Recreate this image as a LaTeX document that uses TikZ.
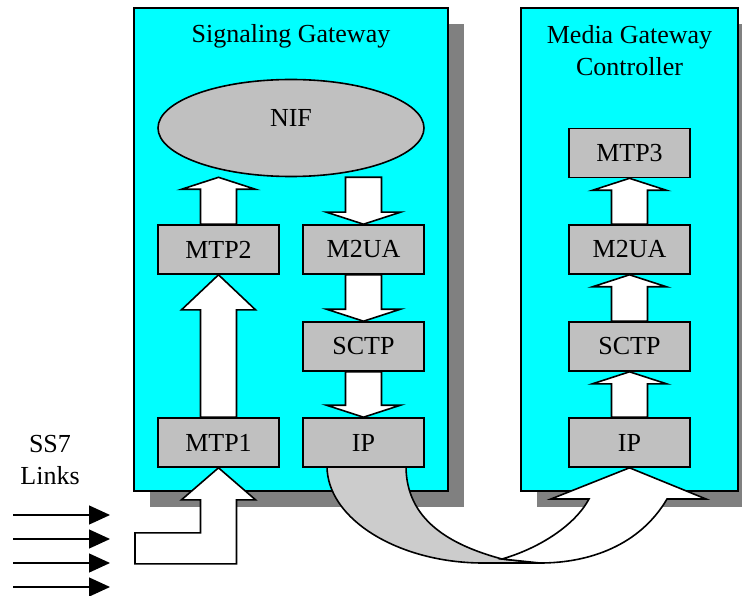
\documentclass[tikz,border=0pt]{standalone}
\usepackage{fontspec}
\setmainfont{Liberation Serif}
\usetikzlibrary{calc,shapes.geometric,arrows.meta}

\definecolor{panelcyan}{HTML}{00FFFF}
\definecolor{layergray}{HTML}{C0C0C0}
\definecolor{shadowgray}{HTML}{808080}
\definecolor{backgray}{HTML}{CCCCCC}

\pgfdeclarelayer{base}
\pgfdeclarelayer{flow}
\pgfsetlayers{base,flow,main}

\tikzset{
  panel/.style={draw=black, line width=1.2pt, fill=panelcyan, inner sep=0pt},
  panelshadow/.style={fill=shadowgray},
  layer/.style={draw=black, line width=1.6pt, fill=layergray, inner sep=0pt,
    minimum width=121pt, minimum height=49pt, font=\fontsize{26}{30}\selectfont},
  blockarrow/.style={draw=black, fill=white, line width=1.6pt, line join=miter},
  caption/.style={font=\fontsize{26}{32}\selectfont, align=center, inner sep=0pt},
  linkline/.style={line width=1.3pt, -{Triangle[length=21pt,width=19pt]}},
}

% upward block arrow: #1 column box, #2 tail anchor, #3 tip anchor, #4 head length
\newcommand{\liftarrow}[4]{%
  \filldraw[blockarrow] let \p0=(#1), \p1=(#2), \p2=(#3) in
    (\x0-18pt,\y1) -- (\x0-18pt,\y2-#4pt) -- (\x0-37pt,\y2-#4pt) -- (\x0,\y2)
    -- (\x0+37pt,\y2-#4pt) -- (\x0+18pt,\y2-#4pt) -- (\x0+18pt,\y1) -- cycle;}
% downward block arrow, same arguments
\newcommand{\droparrow}[4]{%
  \filldraw[blockarrow] let \p0=(#1), \p1=(#2), \p2=(#3) in
    (\x0-18pt,\y1) -- (\x0-18pt,\y2+#4pt) -- (\x0-37pt,\y2+#4pt) -- (\x0,\y2)
    -- (\x0+37pt,\y2+#4pt) -- (\x0+18pt,\y2+#4pt) -- (\x0+18pt,\y1) -- cycle;}

\begin{document}
\begin{tikzpicture}[x=1pt, y=-1pt]
  \useasboundingbox (0,0) rectangle (742,596);

  % layer boxes
  \node[draw=black, line width=1.6pt, fill=layergray, ellipse, inner sep=0pt,
        minimum width=266pt, minimum height=97pt] (nif) at (291,128) {};
  \node[caption] (niftext) at (291,118) {NIF};
  \node[layer] (mtp2) at (218.5,249.5) {MTP2};
  \node[layer] (mtp1) at (218.5,442.5) {MTP1};
  \node[layer] (m2ua) at (363.5,249.5) {M2UA};
  \node[layer] (sctp) at (363.5,346.5) {SCTP};
  \node[layer] (ip)   at (363.5,442.5) {IP};
  \node[layer] (mmtp3) at (629.5,153) {MTP3};
  \node[layer] (mm2ua) at (629.5,249.5) {M2UA};
  \node[layer] (msctp) at (629.5,346.5) {SCTP};
  \node[layer] (mip)   at (629.5,442.5) {IP};

  \begin{pgfonlayer}{base}
    \begin{scope}
      \clip (0,0) rectangle (742,596);
      \fill[white] (0,0) rectangle (742,596);
      % panels with their drop shadows
      \coordinate (sgnw) at (134,8);   \coordinate (sgse) at (448,491);
      \coordinate (mgnw) at (521,8);   \coordinate (mgse) at (738,491);
      \fill[panelshadow] ($(sgnw)+(16,16)$) rectangle ($(sgse)+(16,16)$);
      \fill[panelshadow] ($(mgnw)+(16,16)$) rectangle ($(mgse)+(16,16)$);
      \node[panel, minimum width=314pt, minimum height=483pt] (sg) at (291,249.5) {};
      \node[panel, minimum width=217pt, minimum height=483pt] (mgc) at (629.5,249.5) {};
      \node[caption] (sgtitle) at (291,36) {Signaling Gateway};
      \node[caption] (mgctitle) at (629.5,51) {Media Gateway\\Controller};
    \end{scope}
  \end{pgfonlayer}

  % SS7 links
  \node[caption] (ss7) at (50,460) {SS7\\Links};
  \foreach \i/\yy in {1/515, 2/539, 3/563, 4/587} {
    \coordinate (ls\i) at (13,\yy);
    \coordinate (le\i) at (110,\yy);
    \draw[linkline] (ls\i) -- (le\i);
  }

  \begin{pgfonlayer}{flow}
    % IP to IP ribbon: back side (gray) then front side with the head (white)
    \filldraw[draw=black, line width=1.6pt, fill=backgray, line join=round]
      (327,466) .. controls (327,520) and (400,563) .. (483,563)
      -- (540,563) -- (502,559)
      .. controls (450,545) and (406,520) .. (406,466) -- cycle;
    \filldraw[blockarrow]
      (502,559) .. controls (540,548) and (575,525) .. (589,499)
      -- (551,499) -- (mip.south) -- (706,499) -- (667,499)
      .. controls (640,545) and (590,563) .. (540,563) -- cycle;

    % incoming link arrow into MTP1
    \filldraw[blockarrow] let \p0=(mtp1.south) in
      (\x0,\y0) -- (\x0+37pt,\y0-32pt) -- (\x0+18pt,\y0-32pt) -- (\x0+18pt,\y0-96pt)
      -- (135pt,\y0-96pt) -- (135pt,\y0-65pt) -- (\x0-18pt,\y0-65pt)
      -- (\x0-18pt,\y0-32pt) -- (\x0-37pt,\y0-32pt) -- cycle;

    % stack arrows
    \liftarrow{mtp2}{mtp2.north}{nif.south}{12}
    \liftarrow{mtp1}{mtp1.north}{mtp2.south}{35}
    \droparrow{m2ua}{nif.south}{m2ua.north}{12}
    \droparrow{sctp}{m2ua.south}{sctp.north}{12}
    \droparrow{ip}{sctp.south}{ip.north}{12}
    \liftarrow{mmtp3}{mm2ua.north}{mmtp3.south}{12}
    \liftarrow{mm2ua}{msctp.north}{mm2ua.south}{12}
    \liftarrow{msctp}{mip.north}{msctp.south}{12}
  \end{pgfonlayer}
\end{tikzpicture}
\end{document}
